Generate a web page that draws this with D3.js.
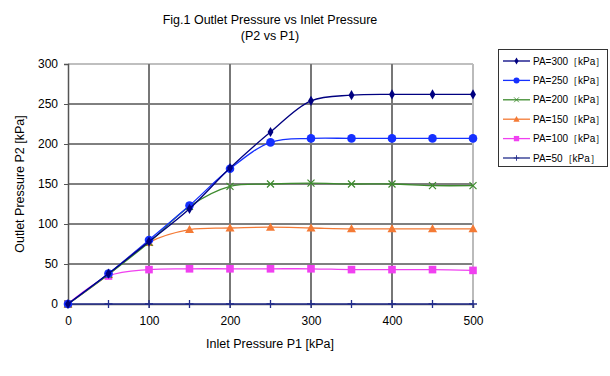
<!DOCTYPE html>
<html>
<head>
<meta charset="utf-8">
<script src="https://cdn.jsdelivr.net/npm/d3@7"></script>
<style>
  body { margin: 0; background: #fff; }
  text { font-family: "Liberation Sans", Arial, sans-serif; fill: #000; }
</style>
</head>
<body>
<svg id="chart" width="610" height="376"></svg>
<script>
// data
const inlet = [0, 50, 100, 150, 200, 250, 300, 350, 400, 450, 500];
const pa300 = [0, 38, 78, 119, 170, 215, 254, 261, 262, 262, 262];
const pa250 = [0, 38, 80, 123, 169, 202, 207, 207, 207, 207, 207];
const pa200 = [0, 37, 77, 122, 147, 150, 151, 150, 150, 148, 148];
const pa150 = [0, 37, 77, 93, 95, 96, 95, 94, 94, 94, 94];
const pa100 = [0, 35, 43, 44, 44, 44, 44, 43, 43, 43, 42];
const pa50  = [0, 0, 0, 0, 0, 0, 0, 0, 0, 0, 0];
const seriesNames = ['PA=300［kPa］', 'PA=250［kPa］', 'PA=200［kPa］', 'PA=150［kPa］', 'PA=100［kPa］', 'PA=50［kPa］'];
const xTicks = [0, 100, 200, 300, 400, 500];
const yTicks = [0, 50, 100, 150, 200, 250, 300];

const series = [
  { name: seriesNames[0], values: pa300, color: '#000080', marker: 'diamond' },
  { name: seriesNames[1], values: pa250, color: '#1530ff', marker: 'circle' },
  { name: seriesNames[2], values: pa200, color: '#3d8b2e', marker: 'x' },
  { name: seriesNames[3], values: pa150, color: '#f47a35', marker: 'triangle' },
  { name: seriesNames[4], values: pa100, color: '#f040f0', marker: 'square' },
  { name: seriesNames[5], values: pa50,  color: '#232d8c', marker: 'plus' }
];

const svg = d3.select('#chart');
const x = d3.scaleLinear().domain([0, 500]).range([68, 473]);
const y = d3.scaleLinear().domain([0, 300]).range([304, 64]);

// title
svg.append('text').attr('x', 270).attr('y', 24).attr('text-anchor', 'middle')
  .style('font-size', '12.5px').text('Fig.1 Outlet Pressure vs Inlet Pressure');
svg.append('text').attr('x', 270).attr('y', 40).attr('text-anchor', 'middle')
  .style('font-size', '12.5px').text('(P2 vs P1)');

// grid
const grid = svg.append('g');
grid.selectAll('.hgrid').data(yTicks.filter(d => d > 0 && d < 300))
  .enter().append('line')
    .attr('x1', x(0)).attr('x2', x(500))
    .attr('y1', d => y(d)).attr('y2', d => y(d))
    .attr('stroke', '#000').attr('stroke-width', 1);
grid.append('line')
  .attr('x1', x(0)).attr('x2', x(500)).attr('y1', y(300)).attr('y2', y(300))
  .attr('stroke', '#aaa').attr('stroke-width', 1.5);
grid.selectAll('.vgrid').data(xTicks.filter(d => d > 0 && d < 500))
  .enter().append('line')
    .attr('x1', d => x(d)).attr('x2', d => x(d))
    .attr('y1', y(300)).attr('y2', y(0))
    .attr('stroke', '#777').attr('stroke-width', 2);
grid.append('line')
  .attr('x1', x(500)).attr('x2', x(500)).attr('y1', y(300)).attr('y2', y(0))
  .attr('stroke', '#bbb').attr('stroke-width', 2);

// axes
const yAxis = d3.axisLeft(y).tickValues(yTicks).tickSize(4).tickPadding(6);
const yg = svg.append('g').attr('transform', `translate(${x(0)},0)`).call(yAxis);
const xAxis = d3.axisBottom(x).tickValues(xTicks).tickSize(4).tickPadding(8);
const xg = svg.append('g').attr('transform', `translate(0,${y(0)})`).call(xAxis);
[yg, xg].forEach(g => {
  g.select('.domain').attr('stroke', '#555').attr('stroke-width', 1.5);
  g.selectAll('.tick line').attr('stroke', '#555');
  g.selectAll('text').style('font-size', '12px').style('font-family', '"Liberation Sans", Arial, sans-serif');
});

// axis labels
svg.append('text').attr('x', 270).attr('y', 348).attr('text-anchor', 'middle')
  .style('font-size', '12.5px').text('Inlet Pressure P1 [kPa]');
svg.append('text').attr('transform', 'translate(24,184) rotate(-90)').attr('text-anchor', 'middle')
  .style('font-size', '12.5px').text('Outlet Pressure P2 [kPa]');

// markers
const drawMarker = (g, type, color) => {
  if (type === 'diamond') {
    g.append('path').attr('d', d3.symbol(d3.symbolDiamond, 30)()).attr('fill', color);
  } else if (type === 'circle') {
    g.append('circle').attr('r', 4.3).attr('fill', color);
  } else if (type === 'x') {
    g.append('path').attr('d', 'M-3.5,-3.5L3.5,3.5M-3.5,3.5L3.5,-3.5').attr('stroke', color).attr('stroke-width', 1.2).attr('fill', 'none');
  } else if (type === 'triangle') {
    g.append('path').attr('d', 'M0,-4.5L4.5,3.5L-4.5,3.5Z').attr('fill', color);
  } else if (type === 'square') {
    g.append('rect').attr('x', -3.8).attr('y', -3.8).attr('width', 7.6).attr('height', 7.6).attr('fill', color);
  } else if (type === 'plus') {
    g.append('path').attr('d', 'M-4,0L4,0M0,-4L0,4').attr('stroke', color).attr('stroke-width', 1.3).attr('fill', 'none');
  }
};

// lines
const line = d3.line().curve(d3.curveCatmullRom.alpha(0.5))
  .x((d, i) => x(inlet[i])).y(d => y(d));

const plot = svg.append('g');
series.slice().reverse().forEach(s => {
  plot.append('path').attr('d', line(s.values))
    .attr('fill', 'none').attr('stroke', s.color).attr('stroke-width', 1.3);
  s.values.forEach((v, i) => {
    const g = plot.append('g').attr('transform', `translate(${x(inlet[i])},${y(v)})`);
    drawMarker(g, s.marker, s.color);
  });
});

// legend
const legend = svg.append('g');
legend.append('rect').attr('x', 498.5).attr('y', 49.5).attr('width', 109).attr('height', 117)
  .attr('fill', '#fff').attr('stroke', '#333').attr('stroke-width', 1);
series.forEach((s, i) => {
  const ly = 61 + i * 19.4;
  legend.append('line').attr('x1', 503).attr('x2', 530).attr('y1', ly).attr('y2', ly)
    .attr('stroke', s.color).attr('stroke-width', 1.3);
  const g = legend.append('g').attr('transform', `translate(516.5,${ly}) scale(0.7)`);
  drawMarker(g, s.marker, s.color);
  legend.append('text').attr('x', 533).attr('y', ly + 3.5)
    .style('font-size', '10px').text(s.name);
});
</script>
</body>
</html>
